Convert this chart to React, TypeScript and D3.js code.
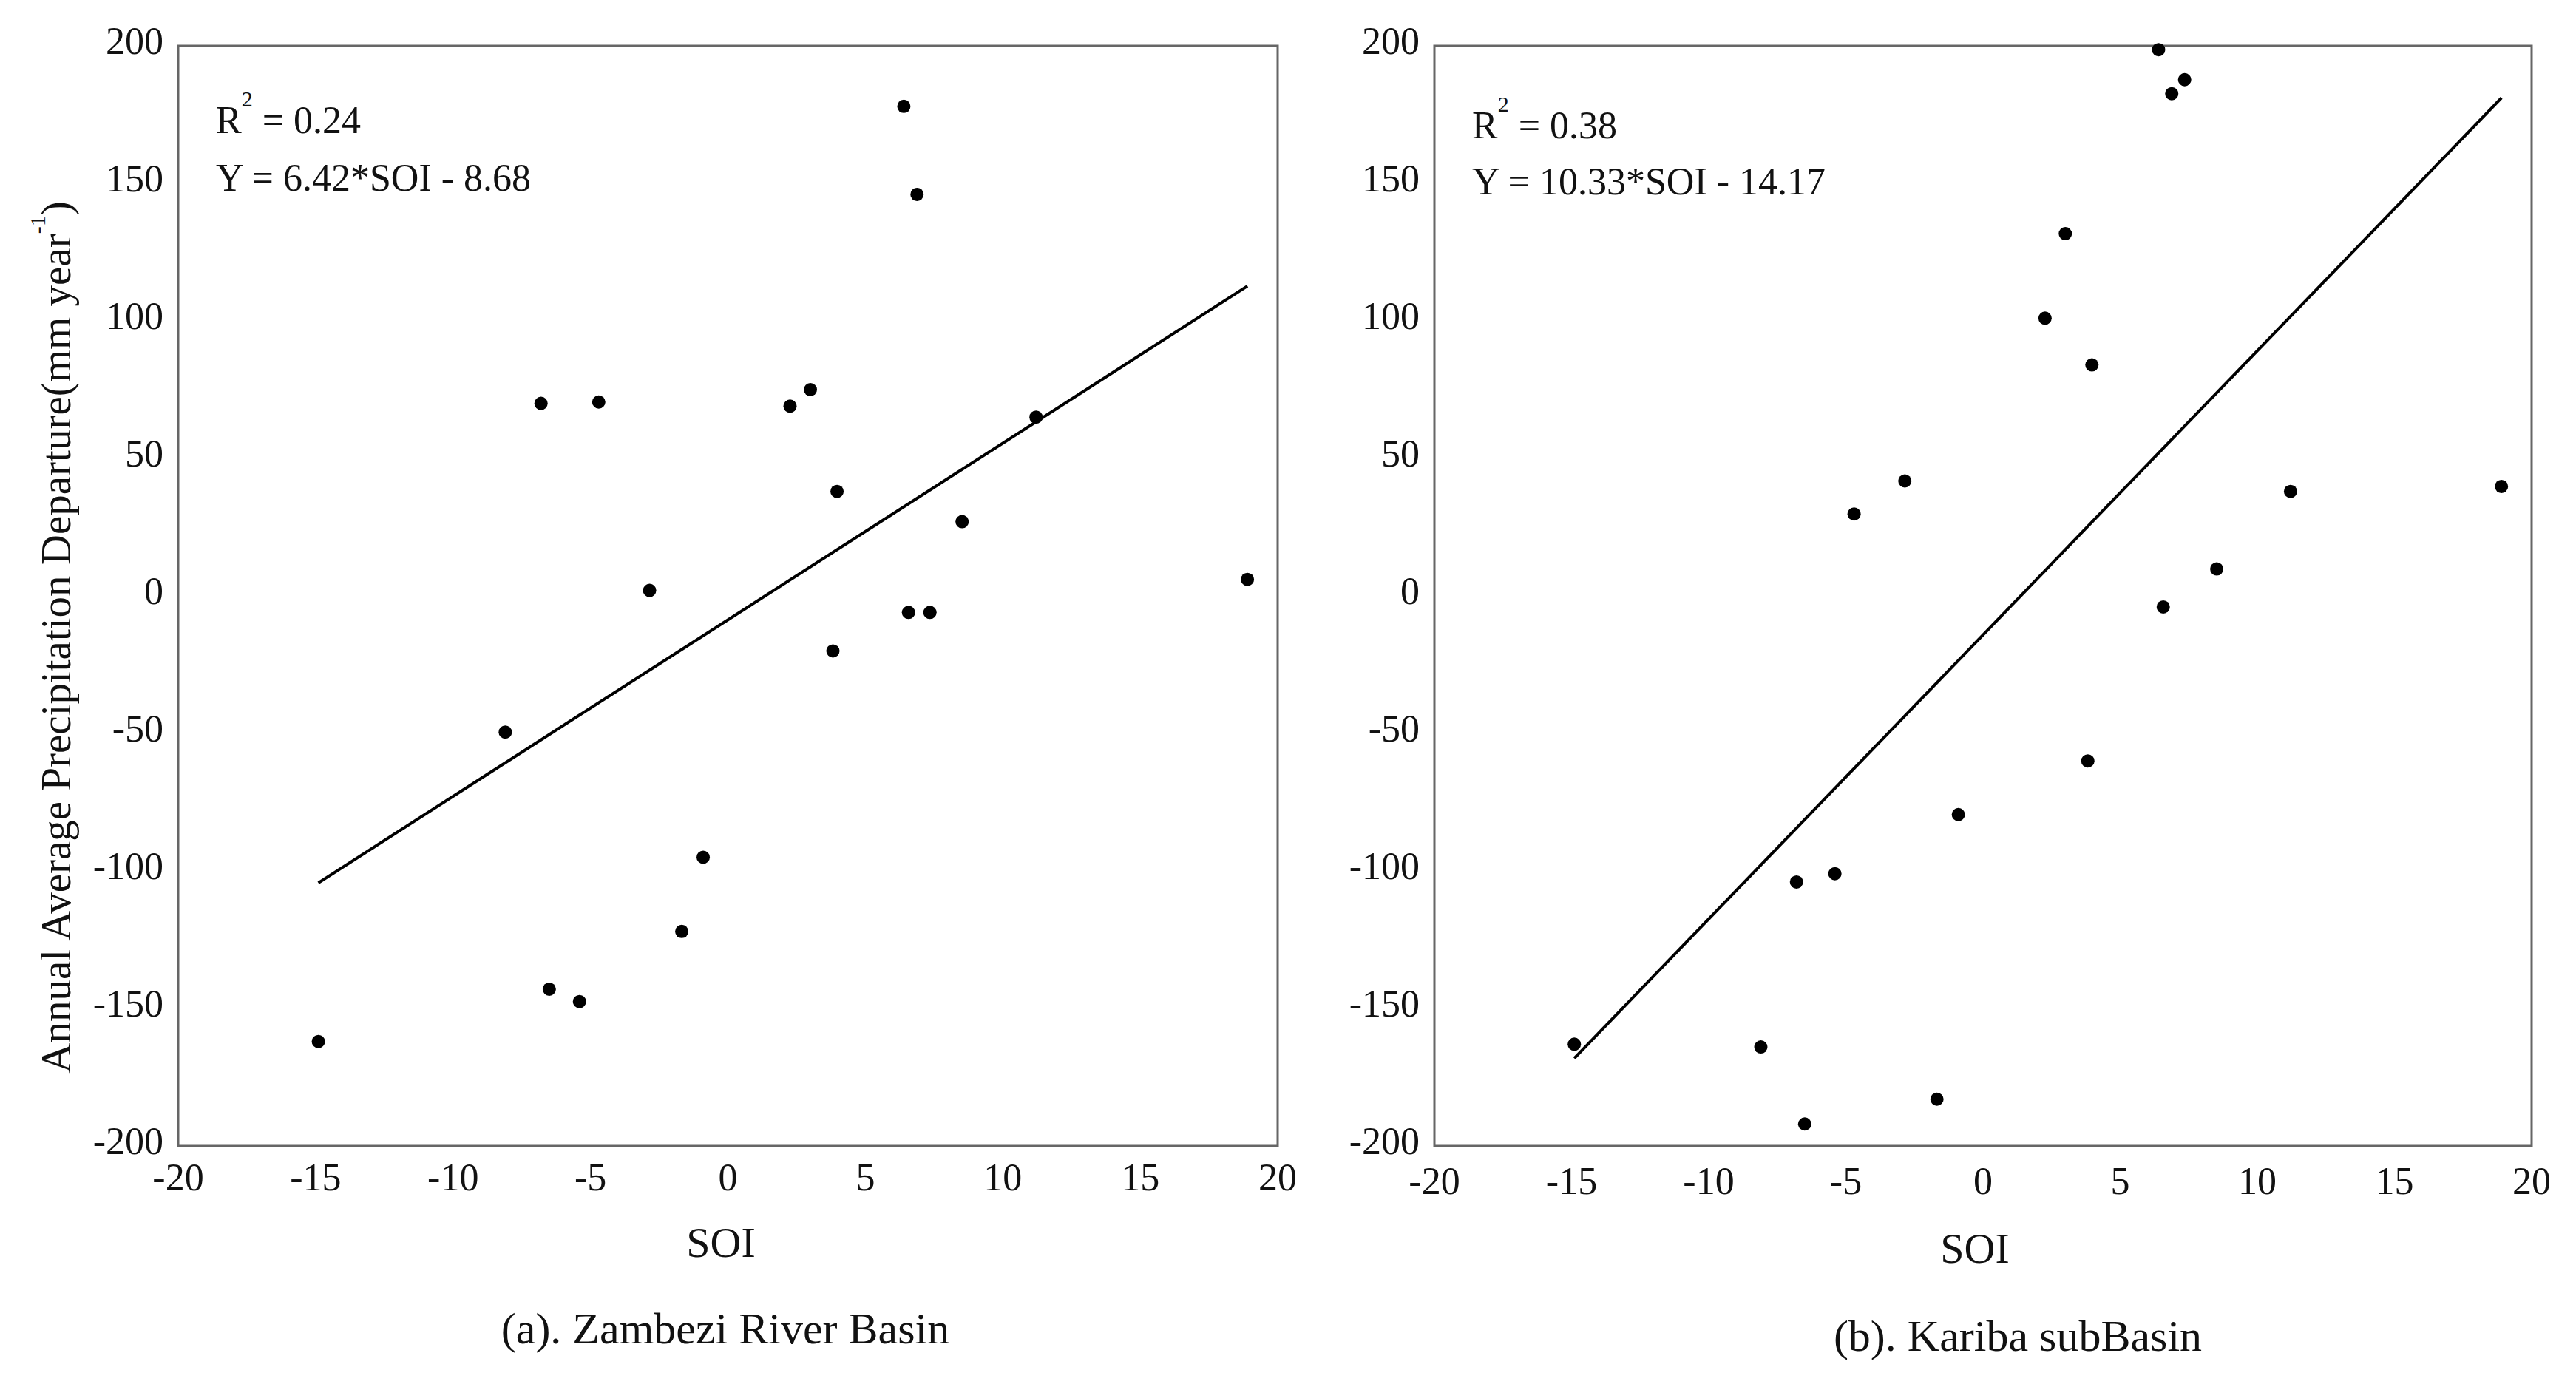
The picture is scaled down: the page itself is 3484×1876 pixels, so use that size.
import React from "react";
import * as d3 from "d3";

// Shared SOI values (same years in both panels)
const soi = [-14.9, -8.1, -6.8, -6.5, -5.4, -4.7, -2.85, -1.68, -0.9, 2.26, 3.0, 3.82, 3.97, 6.4, 6.57, 6.88, 7.35, 8.52, 11.21, 18.9];
// (a) Zambezi River Basin departures
const zambeziDeparture = [-162, -49.5, 70, -143, -147.5, 70.5, 2, -122, -95, 69, 75, -20, 38, 178, -6, 146, -6, 27, 65, 6];
// (b) Kariba subBasin departures
const karibaDeparture = [-163, -164, -104, -192, -101, 29.8, 41.8, -183, -79.5, 101, 131.7, -60, 84, 198.6, -4, 182.6, 187.7, 9.8, 38, 39.8];

const xTicks = [-20, -15, -10, -5, 0, 5, 10, 15, 20];
const yTicks = [-200, -150, -100, -50, 0, 50, 100, 150, 200];

const panels = [
  { key: "a", values: zambeziDeparture, slope: 6.42, intercept: -8.68, r2: "0.24", eq: "Y = 6.42*SOI - 8.68", caption: "(a). Zambezi River Basin", x0: 241, x1: 1728, textY: 180, eqY: 258, tickBase: 1610, soiBase: 1700, capBase: 1817, soiX: 975, capX: 981 },
  { key: "b", values: karibaDeparture, slope: 10.33, intercept: -14.17, r2: "0.38", eq: "Y = 10.33*SOI - 14.17", caption: "(b). Kariba subBasin", x0: 1940, x1: 3424, textY: 187, eqY: 263, tickBase: 1615, soiBase: 1708, capBase: 1827, soiX: 2671, capX: 2729 },
];

const FONT = "'Liberation Serif', 'DejaVu Serif', serif";
const TOP = 62;
const BOTTOM = 1550;

function Panel({ p }: { p: any }) {
  const x = d3.scaleLinear().domain([-20, 20]).range([p.x0, p.x1]);
  const y = d3.scaleLinear().domain([-200, 200]).range([BOTTOM, TOP]);
  const xmin = d3.min(soi) as number;
  const xmax = d3.max(soi) as number;
  const line = d3.line<number>().x((d) => x(d)).y((d) => y(p.slope * d + p.intercept));
  return (
    <g>
      <rect x={p.x0} y={TOP} width={p.x1 - p.x0} height={BOTTOM - TOP} fill="none" stroke="#666" strokeWidth={3} />
      {yTicks.map((t) => (
        <text key={"y" + t} x={p.x0 - 20} y={y(t) + 11} textAnchor="end" fontSize={52} fontFamily={FONT} fill="#111">{t}</text>
      ))}
      {xTicks.map((t) => (
        <text key={"x" + t} x={x(t)} y={p.tickBase} textAnchor="middle" fontSize={52} fontFamily={FONT} fill="#111">{t}</text>
      ))}
      <path d={line([xmin, xmax]) || ""} fill="none" stroke="#000" strokeWidth={4} />
      {soi.map((s, i) => (
        <circle key={i} cx={x(s)} cy={y(p.values[i])} r={9} fill="#000" />
      ))}
      <text x={p.x0 + 51} y={p.textY} fontSize={52} fontFamily={FONT} fill="#111">
        R<tspan fontSize={30} dy={-36}>2</tspan><tspan dy={36}>{" = " + p.r2}</tspan>
      </text>
      <text x={p.x0 + 51} y={p.eqY} fontSize={52} fontFamily={FONT} fill="#111">{p.eq}</text>
      <text x={p.soiX} y={p.soiBase} textAnchor="middle" fontSize={58} fontFamily={FONT} fill="#111">SOI</text>
      <text x={p.capX} y={p.capBase} textAnchor="middle" fontSize={60} fontFamily={FONT} fill="#111">{p.caption}</text>
    </g>
  );
}

export default function App() {
  return (
    <svg width={3484} height={1876} style={{ position: "absolute", left: 0, top: 0, background: "#fff" }}>
      <rect x={0} y={0} width={3484} height={1876} fill="#fff" />
      {panels.map((p) => <Panel key={p.key} p={p} />)}
      <text transform="translate(95,862) rotate(-90)" textAnchor="middle" fontSize={57} fontFamily={FONT} fill="#111">
        Annual Average Precipitation Departure(mm year<tspan fontSize={30} dy={-34}>-1</tspan><tspan dy={34}>)</tspan>
      </text>
    </svg>
  );
}
